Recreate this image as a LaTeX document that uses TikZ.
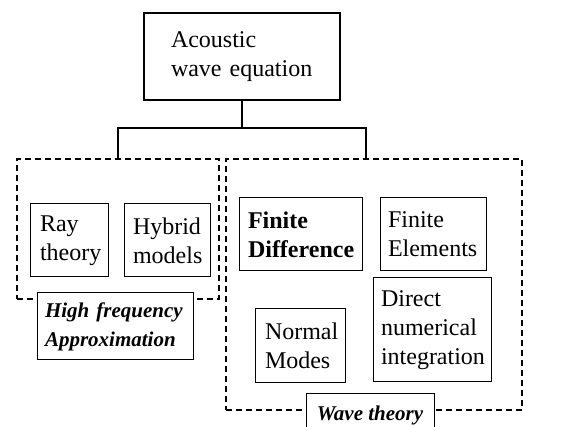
\documentclass[tikz,border=0pt]{standalone}
\usepackage{fontspec}
\setmainfont{Liberation Serif}

\begin{document}
\begin{tikzpicture}[x=1pt,y=-1pt,
        every node/.style={font=\fontsize{24}{29}\selectfont},
        leaf/.style={draw, line width=1pt, fill=white, align=left, inner ysep=0pt, minimum height=73pt},
        group/.style={draw, line width=1.3pt, dash pattern=on 6pt off 4pt, inner sep=0pt},
        title/.style={font=\fontsize{21}{29}\selectfont\bfseries\itshape},
        conn/.style={line width=1.5pt}]
        \useasboundingbox (0,0) rectangle (573,427);
        \clip (0,0) rectangle (573,427);
        % the two dashed groups
        \node[group, minimum width=202pt, minimum height=140pt] (hfgroup) at (118,229) {};
        \node[group, minimum width=296pt, minimum height=251pt] (wavegroup) at (374,284.5) {};
        % root
        \node[leaf, line width=2pt, minimum height=87pt, inner xsep=27pt, text width=142pt] (acoustic) at (242,57) {Acoustic\\wave equation};
        \coordinate (split) at (242,128);
        \coordinate (ljoin) at (118,128);
        \coordinate (rjoin) at (366,128);
        \coordinate (rtop) at (366,159);
        \draw[conn] (acoustic.south) -- (split);
        \draw[conn] (hfgroup.north) -- (ljoin) -- (rjoin) -- (rtop);
        % high frequency methods
        \node[leaf, inner xsep=10pt, text width=58pt] (ray) at (69,240.5) {Ray\\theory};
        \node[leaf, inner xsep=9pt, text width=68pt] (hybrid) at (167,240.5) {Hybrid\\models};
        \node[leaf, title, minimum height=67pt, inner xsep=8pt, text width=140pt] (hf) at (115,326.5) {High frequency\\Approximation};
        % wave theory methods
        \node[leaf, inner xsep=9pt, text width=105pt, font=\fontsize{24}{29}\selectfont\bfseries] (fd) at (300.5,234.5) {Finite\\Difference};
        \node[leaf, inner xsep=8pt, text width=90pt] (fe) at (433,234.5) {Finite\\Elements};
        \node[leaf, minimum height=74pt, inner xsep=10pt, text width=70pt] (normal) at (300,346) {Normal\\Modes};
        \node[leaf, minimum height=104pt, inner xsep=8pt, text width=102pt] (direct) at (432,330) {Direct\\numerical\\integration};
        \node[leaf, title, minimum height=43pt, inner xsep=0pt, minimum width=128pt, align=center] (wave) at (370,415.5) {Wave theory};
\end{tikzpicture}
\end{document}
